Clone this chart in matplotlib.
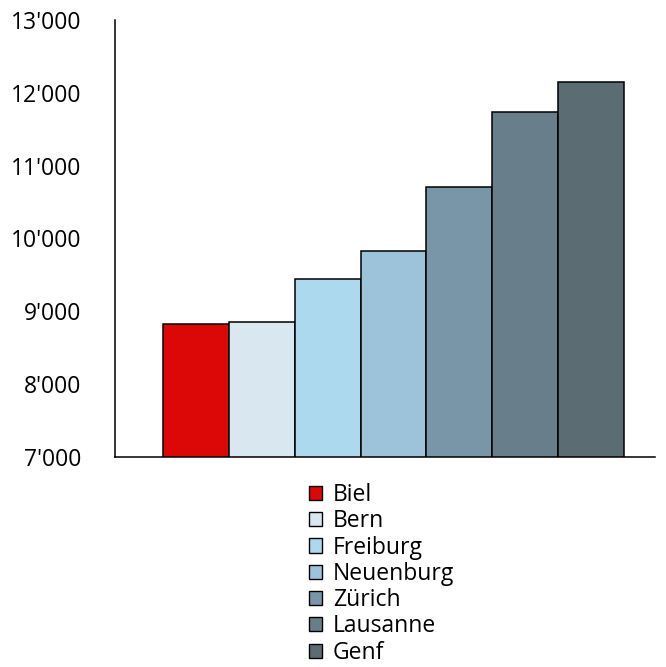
import matplotlib
matplotlib.use("Agg")
import matplotlib.pyplot as plt
from matplotlib.patches import Patch

# cities and values
cities = ["Biel", "Bern", "Freiburg", "Neuenburg", "Zürich", "Lausanne", "Genf"]
values = [8827, 8854, 9445, 9834, 10709, 11739, 12151]
colors = ["#DC0707", "#D8E7F0", "#ADD9EF", "#9CC3DA", "#7896A8", "#687E8B", "#5C6C73"]
yticks = [7000, 8000, 9000, 10000, 11000, 12000, 13000]

plt.rcParams["font.family"] = ["Open Sans", "DejaVu Sans"]

fig = plt.figure(figsize=(6.66, 6.67), dpi=100)
ax = fig.add_axes([115 / 666, 1 - 457 / 667, 540 / 666, 437 / 667])

x = list(range(len(cities)))
ax.bar(x, values, width=1.0, color=colors, edgecolor="black", linewidth=1.1)

ax.set_ylim(7000, 13000)
ax.set_xlim(-1.23, 6.97)
ax.set_yticks(yticks)
ax.set_yticklabels([f"{v:,}".replace(",", "'") for v in yticks], fontsize=16.5)
ax.tick_params(axis="y", length=0, pad=24)
ax.set_xticks([])
for s in ["top", "right"]:
    ax.spines[s].set_visible(False)
for s in ["left", "bottom"]:
    ax.spines[s].set_linewidth(1.1)

handles = [Patch(facecolor=c, edgecolor="black", linewidth=1.0) for c in colors]
fig.legend(handles, cities, loc="upper left", bbox_to_anchor=(309 / 666, 1 - 483 / 667),
           frameon=False, fontsize=16.5, handlelength=0.57, handleheight=0.57,
           handletextpad=0.48, labelspacing=0.1, borderaxespad=0, borderpad=0)

fig.savefig("out.png", dpi=100)
